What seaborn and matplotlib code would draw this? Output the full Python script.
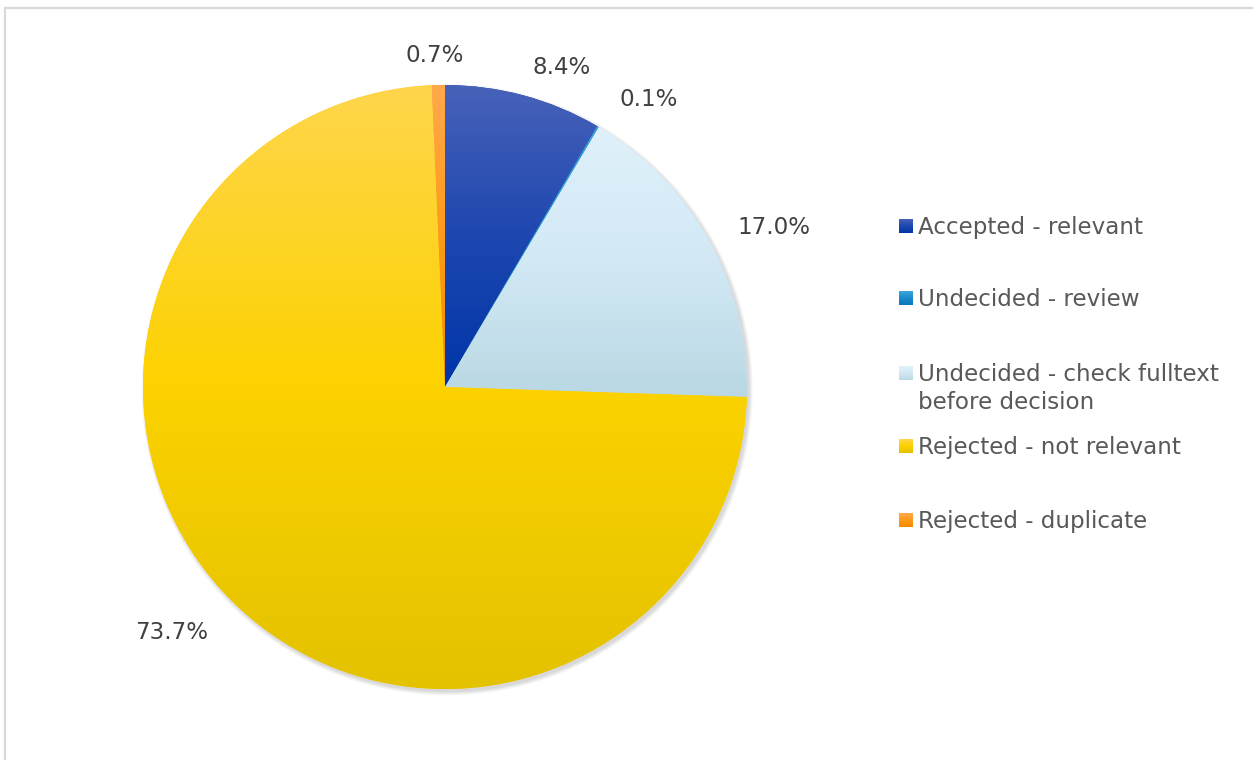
import numpy as np
import matplotlib
matplotlib.use("Agg")
import matplotlib.pyplot as plt
from matplotlib.patches import Circle
from matplotlib.lines import Line2D
import seaborn as sns

# ---- data -------------------------------------------------------------
categories = [
    "Accepted - relevant",
    "Undecided - review",
    "Undecided - check fulltext\nbefore decision",
    "Rejected - not relevant",
    "Rejected - duplicate",
]
shares = [8.4, 0.1, 17.0, 73.7, 0.7]

# gradient stops per slice (top -> bottom)
slice_gradients = [
    ["#4862B9", "#1E47B0", "#0035A8"],
    ["#3AA6DE", "#1A8ACB", "#0A78BD"],
    ["#DFF1FB", "#D2E9F5", "#B9D8E3"],
    ["#FFD64C", "#FCD200", "#E4C200"],
    ["#FFA84C", "#FF9A18", "#F28C00"],
]

# label anchors (polar: degrees, radius in pie units)
label_angles = [70.0, 54.7, 25.8, -138.1, 91.7]
label_radii = [1.125, 1.165, 1.21, 1.215, 1.097]

sns.set_theme(style="white")
plt.rcParams["font.family"] = ["DejaVu Sans"]
FS = 16.6

W, H, DPI = 1253, 760, 100
fig = plt.figure(figsize=(W / DPI, H / DPI), dpi=DPI)
fig.patch.set_facecolor("white")

# pie axes: centre at (445, 387) px from top-left, radius 302 px
R_PX = 302.0
CX, CY = 445.0, 387.0
LIM = 1.2
half = LIM * R_PX
ax = fig.add_axes([(CX - half) / W, (H - CY - half) / H, 2 * half / W, 2 * half / H])
ax.set_xlim(-LIM, LIM)
ax.set_ylim(-LIM, LIM)
ax.set_aspect("equal")
ax.axis("off")

# soft drop shadow
for k in range(5):
    ax.add_patch(Circle((0.007, -0.009), 1.0 + 0.003 * k, facecolor="#000000",
                        alpha=0.03, edgecolor="none", zorder=0))

cmaps = [sns.blend_palette(g, n_colors=256, as_cmap=True) for g in slice_gradients]
wedges, _ = ax.pie(shares, startangle=90, counterclock=False, radius=1.0,
                   colors=[g[1] for g in slice_gradients],
                   wedgeprops=dict(linewidth=0, edgecolor="none"))

grad = np.linspace(0, 1, 256).reshape(-1, 1)
for w, cm in zip(wedges, cmaps):
    w.set_zorder(1)
    ext = w.get_path().get_extents()
    im = ax.imshow(grad, cmap=cm, extent=[ext.x0, ext.x1, ext.y0, ext.y1],
                   origin="upper", aspect="auto", interpolation="bilinear", zorder=2)
    im.set_clip_path(w)

ax.set_xlim(-LIM, LIM)
ax.set_ylim(-LIM, LIM)

# data labels
for v, a, r in zip(shares, label_angles, label_radii):
    t = np.deg2rad(a)
    ax.text(r * np.cos(t), r * np.sin(t), f"{v:.1f}%", ha="center", va="center",
            fontsize=FS, color="#404040", zorder=5)

# legend drawn in pixel space
px = lambda x, y: (x / W, 1 - y / H)
legend_y = [226, 298, 373, 446, 520]
for label, y, cm in zip(categories, legend_y, cmaps):
    x0, y0 = px(899, y + 7)
    lax = fig.add_axes([x0, y0, 14 / W, 14 / H])
    lax.imshow(grad, cmap=cm, aspect="auto", origin="upper", interpolation="bilinear")
    lax.axis("off")
    for i, line in enumerate(label.split("\n")):
        fx, fy = px(918, y + 8 + 28 * i)
        fig.text(fx, fy, line, ha="left", va="baseline", fontsize=FS, color="#595959")

# chart-area frame (top and left edges)
fig.add_artist(Line2D([4.5 / W, 1.0], [1 - 7.5 / H, 1 - 7.5 / H], color="#D9D9D9",
                      linewidth=1.6, transform=fig.transFigure))
fig.add_artist(Line2D([4.5 / W, 4.5 / W], [0.0, 1 - 7.5 / H], color="#D9D9D9",
                      linewidth=1.6, transform=fig.transFigure))

fig.savefig("out.png", dpi=DPI)
